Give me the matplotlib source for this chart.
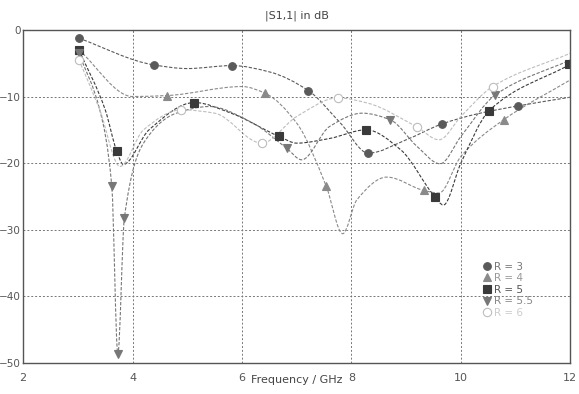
import matplotlib
matplotlib.use("Agg")
import matplotlib.pyplot as plt
import numpy as np
from matplotlib.path import Path
from matplotlib.patches import PathPatch
from matplotlib.lines import Line2D

# curve knots (GHz, dB)
f_r3 = [3.02, 4.39, 5.0, 5.82, 6.5, 7.21, 7.8, 8.31, 9.0, 9.66, 10.3, 11.05, 12.0]
s_r3 = [-1.25, -5.25, -5.8, -5.35, -6.3, -9.1, -14.0, -18.5, -16.5, -14.1, -12.6, -11.4, -10.1]
mf_r3 = [3.02, 4.39, 5.82, 7.21, 8.31, 9.66, 11.05]
ms_r3 = [-1.25, -5.25, -5.35, -9.1, -18.5, -14.1, -11.4]

f_r4 = [3.02, 4.0, 4.63, 6.0, 6.42, 7.0, 7.54, 7.84, 8.1, 8.65, 9.32, 9.6, 10.0, 10.78, 12.0]
s_r4 = [-3.0, -10.0, -9.85, -8.5, -9.5, -14.0, -23.5, -30.6, -25.5, -22.1, -24.1, -24.5, -19.0, -13.5, -7.5]
mf_r4 = [3.02, 4.63, 6.42, 7.54, 9.32, 10.78]
ms_r4 = [-3.0, -9.85, -9.5, -23.5, -24.1, -13.5]

f_r5 = [3.02, 3.5, 3.71, 3.83, 4.3, 5.13, 5.8, 6.68, 7.0, 7.6, 8.27, 8.9, 9.53, 9.68, 10.0, 10.52, 12.0]
s_r5 = [-3.0, -12.0, -18.2, -20.2, -15.0, -10.9, -12.5, -16.0, -17.0, -16.3, -15.0, -18.0, -25.1, -26.3, -20.0, -12.1, -5.15]
mf_r5 = [3.02, 3.71, 5.13, 6.68, 8.27, 9.53, 10.52, 11.97]
ms_r5 = [-3.0, -18.2, -10.9, -16.0, -15.0, -25.1, -12.1, -5.15]

f_r55 = [3.02, 3.4, 3.62, 3.73, 3.85, 4.2, 4.8, 5.4, 6.2, 6.82, 7.09, 7.6, 8.2, 8.71, 9.2, 9.62, 10.0, 10.63, 12.0]
s_r55 = [-3.5, -12.0, -23.5, -48.7, -28.2, -17.0, -12.5, -11.5, -14.0, -17.8, -19.5, -14.5, -12.5, -13.5, -17.5, -20.1, -16.0, -9.75, -4.5]
mf_r55 = [3.02, 3.62, 3.73, 3.85, 6.82, 8.71, 10.63]
ms_r55 = [-3.5, -23.5, -48.7, -28.2, -17.8, -13.5, -9.75]

f_r6 = [3.02, 3.4, 3.77, 4.2, 4.89, 5.5, 6.36, 7.0, 7.75, 8.3, 9.2, 9.6, 10.0, 10.58, 12.0]
s_r6 = [-4.5, -12.0, -20.5, -15.0, -12.0, -12.5, -17.0, -13.0, -10.2, -11.0, -14.6, -16.5, -13.0, -8.5, -3.5]
mf_r6 = [3.02, 4.89, 6.36, 7.75, 9.2, 10.58]
ms_r6 = [-4.5, -12.0, -17.0, -10.2, -14.6, -8.5]

labels = ["R = 3", "R = 4", "R = 5", "R = 5.5", "R = 6"]


def slopes(x, y):
    # monotone (pchip style) slopes so the smooth line does not overshoot
    h = np.diff(x)
    d = np.diff(y) / h
    m = np.zeros_like(y)
    m[0], m[-1] = d[0], d[-1]
    for k in range(1, len(x) - 1):
        if d[k - 1] * d[k] > 0:
            w1 = 2 * h[k] + h[k - 1]
            w2 = h[k] + 2 * h[k - 1]
            m[k] = (w1 + w2) / (w1 / d[k - 1] + w2 / d[k])
    return m


def smooth_path(x, y):
    x = np.asarray(x, float)
    y = np.asarray(y, float)
    m = slopes(x, y)
    verts = [(x[0], y[0])]
    codes = [Path.MOVETO]
    for i in range(len(x) - 1):
        h = x[i + 1] - x[i]
        verts += [(x[i] + h / 3, y[i] + m[i] * h / 3),
                  (x[i + 1] - h / 3, y[i + 1] - m[i + 1] * h / 3),
                  (x[i + 1], y[i + 1])]
        codes += [Path.CURVE4] * 3
    return Path(verts, codes)


fig = plt.figure(figsize=(5.79, 3.94), dpi=100)
ax = fig.add_axes([0.040, 0.079, 0.945, 0.845])

series = [
    (f_r3, s_r3, mf_r3, ms_r3, "o", "#5a5a5a", "#5a5a5a", 5.5),
    (f_r4, s_r4, mf_r4, ms_r4, "^", "#8a8a8a", "#8a8a8a", 6),
    (f_r5, s_r5, mf_r5, ms_r5, "s", "#3a3a3a", "#3a3a3a", 6),
    (f_r55, s_r55, mf_r55, ms_r55, "v", "#777777", "#777777", 6),
    (f_r6, s_r6, mf_r6, ms_r6, "o", "#bdbdbd", "white", 6),
]

handles = []
for (fx, sy, mx, my, mk, col, fc, size), lab in zip(series, labels):
    ax.add_patch(PathPatch(smooth_path(fx, sy), fill=False, ec=col, lw=0.8,
                           ls=(0, (3, 1.5)), transform=ax.transData))
    ax.plot(mx, my, ls="none", marker=mk, ms=size, mfc=fc, mec=col, mew=0.8)
    handles.append(Line2D([], [], ls="none", marker=mk, ms=size, mfc=fc, mec=col, mew=0.8, label=lab))

ax.set_xlim(2, 12)
ax.set_ylim(-50, 0)
ax.set_xticks([2, 4, 6, 8, 10, 12])
ax.set_yticks([0, -10, -20, -30, -40, -50])
ax.grid(True, ls=(0, (2, 2)), color="#777777", lw=0.7)
ax.tick_params(axis="x", length=0, labelsize=8, labelcolor="#555555", pad=7)
ax.tick_params(axis="y", length=0, labelsize=7.5, labelcolor="#555555", pad=2)
for sp in ax.spines.values():
    sp.set_color("#555555")
    sp.set_linewidth(1.0)

ax.set_title("|S1,1| in dB", fontsize=8, color="#444444", pad=8)
ax.set_xlabel("Frequency / GHz", fontsize=8, color="#444444")
ax.xaxis.set_label_coords(0.5, -0.035)

leg = ax.legend(handles=handles, loc="upper left", bbox_to_anchor=(0.83, 0.32),
                frameon=False, fontsize=7.5, handlelength=0.8, handletextpad=0.3,
                labelspacing=0.15, borderpad=0,
                labelcolor=["#777777", "#999999", "#555555", "#888888", "#cccccc"])

fig.savefig("out.png", dpi=100)
